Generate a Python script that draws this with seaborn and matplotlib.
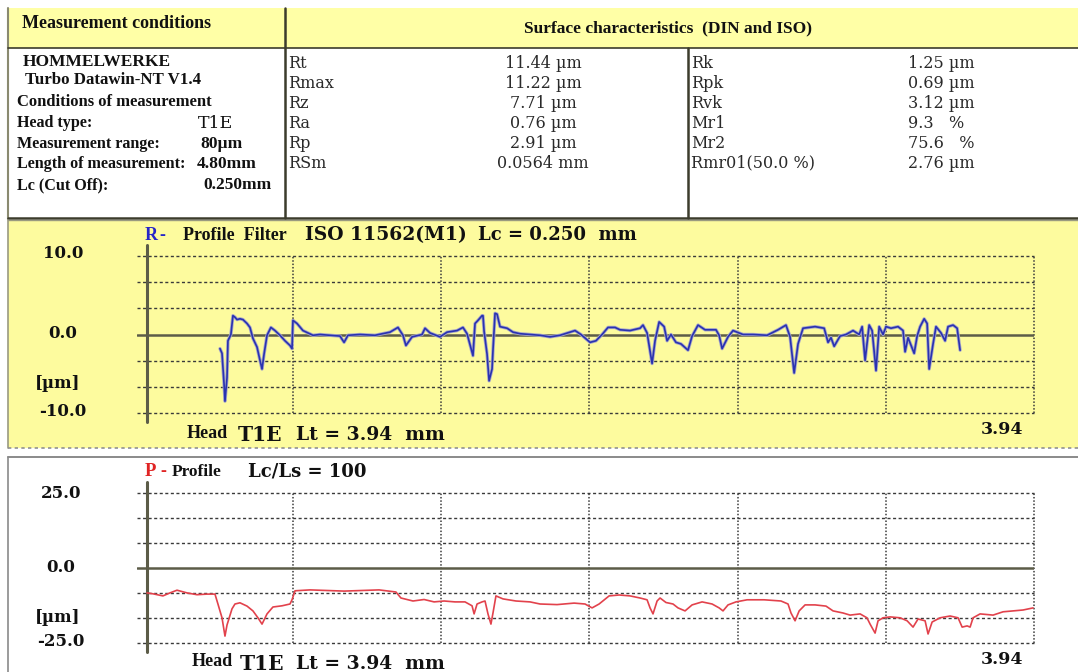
import matplotlib
matplotlib.use("Agg")
import matplotlib.pyplot as plt
import seaborn as sns
import pandas as pd
from matplotlib.patches import Rectangle
from matplotlib.lines import Line2D

# ---------------- data ----------------
r_pos_mm = [0.405, 0.416, 0.427, 0.432, 0.443, 0.448, 0.464, 0.475, 0.486, 0.497,
            0.513, 0.529, 0.551, 0.567, 0.583, 0.605, 0.621, 0.632, 0.643, 0.659,
            0.680, 0.702, 0.729, 0.756, 0.783, 0.794, 0.799, 0.821, 0.853, 0.907,
            0.945, 0.999, 1.053, 1.075, 1.096, 1.161, 1.242, 1.323, 1.366, 1.393,
            1.409, 1.442, 1.496, 1.512, 1.539, 1.593, 1.631, 1.685, 1.717, 1.739,
            1.766, 1.771, 1.782, 1.798, 1.820, 1.825, 1.831, 1.847, 1.858, 1.874,
            1.879, 1.890, 1.901, 1.917, 1.955, 1.987, 2.025, 2.079, 2.133, 2.187,
            2.241, 2.295, 2.322, 2.354, 2.403, 2.435, 2.468, 2.500, 2.538, 2.565,
            2.619, 2.673, 2.689, 2.711, 2.738, 2.754, 2.776, 2.803, 2.819, 2.840,
            2.867, 2.894, 2.932, 2.954, 2.986, 3.024, 3.083, 3.100, 3.116, 3.148,
            3.175, 3.229, 3.283, 3.359, 3.418, 3.461, 3.483, 3.505, 3.526, 3.553,
            3.618, 3.667, 3.688, 3.704, 3.721, 3.753, 3.785, 3.823, 3.856, 3.872,
            3.888, 3.910, 3.926, 3.947, 3.964, 3.985, 4.001, 4.028, 4.066, 4.093,
            4.104, 4.120, 4.153, 4.169, 4.185, 4.207, 4.223, 4.234, 4.255, 4.271,
            4.298, 4.320, 4.336, 4.363, 4.385, 4.401]
r_height_um = [-1.8, -2.4, -6.3, -8.5, -5.5, -0.8, 0.0, 2.4, 2.2, 1.9,
               2.0, 1.9, 1.4, 0.9, -0.5, -1.6, -3.3, -4.4, -2.5, -0.1,
               0.9, 0.5, -0.1, -0.8, -1.4, -1.8, 1.8, 1.4, 0.5, -0.1,
               0.0, -0.1, -0.2, -1.0, -0.1, 0.0, -0.1, 0.3, 0.9, -0.1,
               -1.4, -0.3, 0.0, 0.8, 0.2, -0.3, 0.3, 0.5, 0.9, 0.1,
               -2.3, -2.7, 1.4, 1.8, 2.4, 2.4, 0.4, -2.5, -5.9, -4.4,
               -2.0, 2.7, 2.6, 1.0, 0.8, 0.3, 0.1, 0.0, -0.1, -0.3,
               -0.1, 0.3, 0.5, 0.0, -1.0, -0.8, 0.0, 0.9, 0.9, 0.6,
               0.5, 0.8, 1.2, 0.2, -3.7, -0.8, 1.6, 1.0, -0.8, 0.0,
               -1.0, -1.2, -2.0, -0.2, 1.2, 0.6, 0.6, -0.1, -1.8, -0.3,
               0.5, 0.0, 0.0, -0.1, 0.6, 1.2, -0.3, -4.9, -1.2, 0.8,
               1.0, 0.8, -1.0, -0.4, -1.5, -0.2, 0.0, 0.5, 0.0, 1.0,
               -3.3, 1.2, 0.5, -4.6, 1.0, 0.0, 1.0, 0.8, 1.0, 0.5,
               -2.2, -0.4, -2.4, -0.2, 1.0, 2.0, 1.4, -4.4, -1.2, 1.0,
               0.2, -0.8, 1.0, 1.2, 0.8, -2.0]

p_pos_mm = [0.011, 0.043, 0.097, 0.135, 0.173, 0.227, 0.281, 0.335, 0.378, 0.394,
            0.416, 0.432, 0.443, 0.470, 0.486, 0.513, 0.551, 0.583, 0.610, 0.632,
            0.659, 0.691, 0.740, 0.783, 0.794, 0.810, 0.891, 1.075, 1.264, 1.355,
            1.382, 1.447, 1.507, 1.561, 1.615, 1.674, 1.728, 1.766, 1.777, 1.793,
            1.820, 1.836, 1.852, 1.868, 1.879, 1.895, 1.933, 2.003, 2.079, 2.133,
            2.225, 2.317, 2.376, 2.414, 2.452, 2.506, 2.560, 2.619, 2.673, 2.711,
            2.727, 2.743, 2.765, 2.781, 2.813, 2.851, 2.878, 2.916, 2.954, 3.008,
            3.062, 3.100, 3.121, 3.148, 3.191, 3.251, 3.343, 3.434, 3.472, 3.488,
            3.510, 3.532, 3.564, 3.618, 3.677, 3.715, 3.769, 3.807, 3.861, 3.898,
            3.915, 3.942, 3.958, 3.985, 4.023, 4.077, 4.115, 4.147, 4.174, 4.212,
            4.228, 4.250, 4.293, 4.347, 4.390, 4.412, 4.439, 4.455, 4.471, 4.509,
            4.579, 4.633, 4.687, 4.741, 4.795]
p_height_um = [-8.3, -8.6, -9.3, -8.3, -7.4, -8.3, -8.9, -8.7, -8.7, -12.0,
               -16.6, -22.7, -19.0, -13.6, -12.0, -11.6, -12.7, -14.3, -16.6, -18.7,
               -15.3, -13.0, -12.6, -12.0, -10.6, -7.6, -7.3, -7.7, -7.3, -8.0,
               -10.0, -11.0, -10.5, -11.3, -11.0, -11.3, -11.3, -12.6, -15.3, -12.0,
               -11.3, -11.0, -15.3, -18.7, -15.0, -9.3, -10.3, -11.0, -11.3, -12.0,
               -12.2, -11.7, -12.0, -13.3, -12.0, -9.3, -9.0, -9.3, -10.0, -10.6,
               -13.3, -15.3, -11.0, -10.0, -11.5, -12.0, -13.3, -14.3, -12.3, -11.3,
               -12.0, -13.3, -14.3, -12.3, -11.3, -10.6, -10.6, -11.0, -12.0, -15.0,
               -17.6, -14.3, -12.3, -12.3, -12.7, -14.3, -15.0, -15.7, -15.3, -16.6,
               -18.7, -21.7, -17.6, -16.6, -16.3, -16.6, -17.6, -19.7, -17.0, -17.6,
               -22.0, -18.0, -16.6, -16.0, -16.6, -19.7, -19.3, -19.7, -16.6, -15.3,
               -15.7, -14.6, -14.3, -14.0, -13.3]

x_grid_mm = [0.8, 1.6, 2.4, 3.2, 4.0, 4.8]
r_ylim = (-10.0, 10.0)
p_ylim = (-25.0, 25.0)
r_tick_labels = ["10.0", "0.0", "-10.0"]
p_tick_labels = ["25.0", "0.0", "-25.0"]

cond_labels = ["Head type:", "Measurement range:", "Length of measurement:", "Lc (Cut Off):"]
cond_values = ["T1E", "80µm", "4.80mm", "0.250mm"]
mid_params = ["Rt", "Rmax", "Rz", "Ra", "Rp", "RSm"]
mid_values = ["11.44 µm", "11.22 µm", "7.71 µm", "0.76 µm", "2.91 µm", "0.0564 mm"]
right_params = ["Rk", "Rpk", "Rvk", "Mr1", "Mr2", "Rmr01(50.0 %)"]
right_values = ["1.25 µm", "0.69 µm", "3.12 µm", "9.3   %", "75.6   %", "2.76 µm"]

# ---------------- style ----------------
sns.set_theme(style="white")
plt.rcParams["font.family"] = ["Liberation Serif", "DejaVu Serif"]

W, H = 1078, 672
fig = plt.figure(figsize=(W / 100, H / 100), dpi=100)
fig.patch.set_facecolor("white")

YEL = "#fdfb9e"
YEL_H = "#ffffa6"
DARK = "#3c3c2c"


def fx(x):
    return x / W


def fy(y):
    return 1 - y / H


def rect(x0, y0, x1, y1, **kw):
    fig.add_artist(Rectangle((fx(x0), fy(y1)), fx(x1) - fx(x0), fy(y0) - fy(y1),
                             transform=fig.transFigure, zorder=-5, **kw))


def hline(x0, x1, y, **kw):
    fig.add_artist(Line2D([fx(x0), fx(x1)], [fy(y), fy(y)], transform=fig.transFigure, **kw))


def vline(x, y0, y1, **kw):
    fig.add_artist(Line2D([fx(x), fx(x)], [fy(y0), fy(y1)], transform=fig.transFigure, **kw))


def txt(x, y, s, size=12, weight="bold", family=None, color="#111111", ha="left", va="center"):
    kw = {}
    if family is not None:
        kw["family"] = family
    fig.text(fx(x), fy(y), s, fontsize=size, fontweight=weight, color=color,
             ha=ha, va=va, **kw)


SERIF_W = ["DejaVu Serif"]

# ---------------- table ----------------
rect(8, 8, W + 2, 48, facecolor=YEL_H, edgecolor="none")
rect(8, 48, W + 2, 218, facecolor="white", edgecolor="none")
vline(8, 8, 219, color="#8a8a70", lw=1.5)
hline(8, W, 48, color=DARK, lw=1.2)
hline(8, W, 218, color=DARK, lw=1.8)
vline(285, 8, 218, color=DARK, lw=1.8)
vline(688, 48, 218, color=DARK, lw=1.8)

txt(22, 24, "Measurement conditions", size=13)
txt(668, 28, "Surface characteristics  (DIN and ISO)", size=12.5, ha="center")

txt(23, 62, "HOMMELWERKE", size=12.5)
txt(25, 80, "Turbo Datawin-NT V1.4", size=12.2)
txt(17, 102, "Conditions of measurement", size=12)
cond_y = [123, 144, 164, 185]
cond_vx = [198, 200, 197, 203]
for lab, val, yy, vx in zip(cond_labels, cond_values, cond_y, cond_vx):
    txt(17, yy, lab, size=11.6)
    if val == "T1E":
        txt(vx, yy, val, size=12.5, weight="normal", family=SERIF_W)
    else:
        txt(vx, yy, val, size=12.5)

mid_y = [63, 83, 103, 123, 143, 163]
for p, v, yy in zip(mid_params, mid_values, mid_y):
    txt(288, yy, p, size=11.5, weight="normal", family=SERIF_W, color="#2a2a2a")
    txt(543, yy, v, size=11.5, weight="normal", family=SERIF_W, color="#2a2a2a", ha="center")
for p, v, yy in zip(right_params, right_values, mid_y):
    txt(691, yy, p, size=11.5, weight="normal", family=SERIF_W, color="#2a2a2a")
    txt(908, yy, v, size=11.5, weight="normal", family=SERIF_W, color="#2a2a2a")

# ---------------- panels ----------------
rect(8, 220, W + 2, 448, facecolor=YEL, edgecolor="none")
vline(8, 220, 448, color="#9a9a80", lw=1.2)
hline(8, W, 220, color="#9a9a80", lw=1.0)
hline(8, W, 448, color="#909090", lw=1.2, ls=(0, (2, 2)))
vline(8, 457, H, color="#8a8a8a", lw=1.2)
hline(8, W, 457, color="#8a8a8a", lw=1.4)

X0, X1 = 137, 1034
XLIM = (-0.043, 4.8)


def make_axes(ytop, ybot, ylim):
    ax = fig.add_axes([fx(X0), fy(ybot), fx(X1) - fx(X0), fy(ytop) - fy(ybot)])
    ax.set_xlim(*XLIM)
    ax.set_ylim(*ylim)
    ax.patch.set_alpha(0)
    for s in ax.spines.values():
        s.set_visible(False)
    ax.set_xticks([])
    ax.set_yticks([])
    lo, hi = ylim
    step = (hi - lo) / 6
    for i in range(7):
        v = lo + i * step
        if i == 3:
            continue
        ax.axhline(v, color="#3a3a3a", lw=1.0, ls=(0, (2.2, 1.8)), zorder=1, clip_on=False)
    for xg in x_grid_mm:
        ax.axvline(xg, color="#3a3a3a", lw=1.1, ls=(0, (1.0, 1.2)), zorder=1, clip_on=False)
    ax.axhline(0, color="#5c5c48", lw=1.8, zorder=2)
    pad = 9 / (ybot - ytop)
    ax.axvline(0.011, ymin=-pad * 1.0, ymax=1 + pad * 1.2, color="#5c5c48", lw=2.2,
               clip_on=False, zorder=3)
    return ax


# R profile
ax_r = make_axes(256, 413, r_ylim)
df_r = pd.DataFrame({"pos": r_pos_mm, "height": r_height_um})
sns.lineplot(data=df_r, x="pos", y="height", ax=ax_r, sort=False, color="#a8a8c8",
             lw=2.4, zorder=4)
sns.lineplot(data=df_r, x="pos", y="height", ax=ax_r, sort=False, color="#2a32b0",
             lw=1.2, zorder=5)
ax_r.set_xlabel("")
ax_r.set_ylabel("")

# P profile
ax_p = make_axes(493, 643, p_ylim)
df_p = pd.DataFrame({"pos": p_pos_mm, "height": p_height_um})
sns.lineplot(data=df_p, x="pos", y="height", ax=ax_p, sort=False, color="#e2424c",
             lw=1.2, zorder=5)
ax_p.set_xlabel("")
ax_p.set_ylabel("")

# ---------------- panel texts ----------------
for lab, yy in zip(r_tick_labels, [254, 334, 411]):
    txt(63, yy, lab, size=12, family=["DejaVu Serif"], ha="center")
txt(58, 384, "[µm]", size=12, family=["DejaVu Serif"], ha="center")

txt(145, 236, "R", size=13, color="#2626c8")
txt(159, 236, "-", size=13, color="#2626c8")
txt(183, 236, "Profile  Filter", size=13)
txt(305, 235, "ISO 11562(M1)", size=13.5, family=["DejaVu Serif"])
txt(478, 235, "Lc = 0.250  mm", size=13, family=["DejaVu Serif"])

txt(187, 433, "Head", size=13)
txt(238, 435, "T1E", size=14.5, family=["DejaVu Serif"])
txt(296, 435, "Lt = 3.94  mm", size=13.5, family=["DejaVu Serif"])
txt(1023, 430, "3.94", size=12.5, family=["DejaVu Serif"], ha="right")

for lab, yy in zip(p_tick_labels, [493, 568, 641]):
    txt(61, yy, lab, size=12, family=["DejaVu Serif"], ha="center")
txt(58, 617, "[µm]", size=12, family=["DejaVu Serif"], ha="center")

txt(145, 472, "P", size=13.5, color="#e02424")
txt(160, 472, "-", size=13, color="#e02424")
txt(172, 472, "Profile", size=12.5)
txt(248, 472, "Lc/Ls = 100", size=13, family=["DejaVu Serif"])

txt(192, 661, "Head", size=13)
txt(240, 664, "T1E", size=14.5, family=["DejaVu Serif"])
txt(296, 664, "Lt = 3.94  mm", size=13.5, family=["DejaVu Serif"])
txt(1023, 660, "3.94", size=12.5, family=["DejaVu Serif"], ha="right")

fig.savefig("out.png", dpi=100, facecolor="white")
